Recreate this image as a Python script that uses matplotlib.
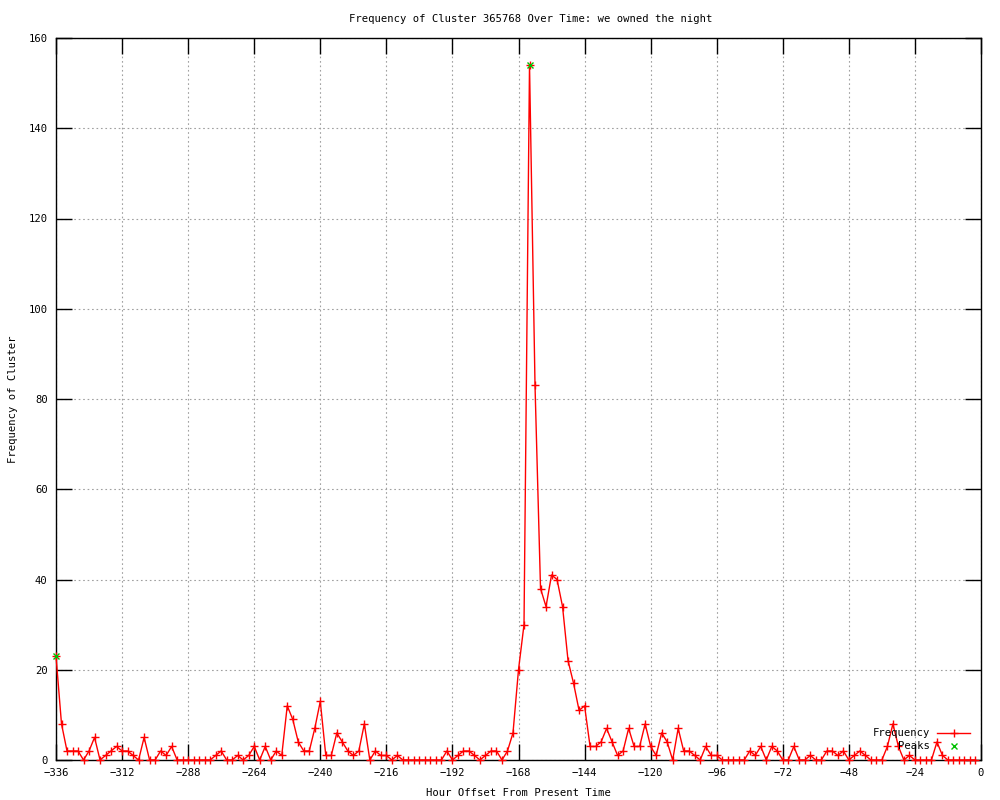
import numpy as np
import matplotlib
matplotlib.use("Agg")
import matplotlib.pyplot as plt

hours = list(range(-336, 0, 2))
frequency = [
    23, 8, 2, 2, 2, 0, 2, 5, 0, 1, 2, 3, 2, 2, 1, 0, 5, 0, 0, 2,
    1, 3, 0, 0, 0, 0, 0, 0, 0, 1, 2, 0, 0, 1, 0, 1, 3, 0, 3, 0,
    2, 1, 12, 9, 4, 2, 2, 7, 13, 1, 1, 6, 4, 2, 1, 2, 8, 0, 2, 1,
    1, 0, 1, 0, 0, 0, 0, 0, 0, 0, 0, 2, 0, 1, 2, 2, 1, 0, 1, 2,
    2, 0, 2, 6, 20, 30, 154, 83, 38, 34, 41, 40, 34, 22, 17, 11, 12, 3, 3, 4,
    7, 4, 1, 2, 7, 3, 3, 8, 3, 1, 6, 4, 0, 7, 2, 2, 1, 0, 3, 1,
    1, 0, 0, 0, 0, 0, 2, 1, 3, 0, 3, 2, 0, 0, 3, 0, 0, 1, 0, 0,
    2, 2, 1, 2, 0, 1, 2, 1, 0, 0, 0, 3, 8, 3, 0, 1, 0, 0, 0, 0,
    4, 1, 0, 0, 0, 0, 0, 0,
]
assert len(hours) == len(frequency)
peak_hours = [-336, -164]
peak_values = [23, 154]

title = "Frequency of Cluster 365768 Over Time: we owned the night"
xlabel = "Hour Offset From Present Time"
ylabel = "Frequency of Cluster"
xticks = list(range(-336, 1, 24))
yticks = list(range(0, 161, 20))

plt.rcParams['font.family'] = ['DejaVu Sans Mono']
FS = 7.6

fig = plt.figure(figsize=(10, 8), dpi=100)
ax = fig.add_axes([56 / 1000, 40 / 800, 925 / 1000, 722 / 800])

red = '#ff0000'
green = '#00c000'
ax.plot(hours, frequency, color=red, linewidth=1.0, marker='+',
        markersize=6, markeredgewidth=1.0, zorder=3, clip_on=False)
ax.plot(peak_hours, peak_values, linestyle='none', color=green, marker='x',
        markersize=5, markeredgewidth=1.0, zorder=4, clip_on=False)

ax.set_xlim(-336, 0)
ax.set_ylim(0, 160)
ax.set_xticks(xticks)
ax.set_yticks(yticks)
ax.tick_params(axis='both', direction='in', length=11.5, width=1.0,
               top=True, right=True, labelsize=FS, colors='black')
ax.tick_params(axis='x', pad=6)
ax.tick_params(axis='y', pad=6)
ax.grid(True, linestyle=(0, (1.5, 2.5)), color='#a0a0a0', linewidth=0.8, zorder=1)
ax.set_axisbelow(True)
for s in ax.spines.values():
    s.set_linewidth(1.0)
    s.set_color('black')

ax.set_xlabel(xlabel, fontsize=FS)
ax.xaxis.set_label_coords(0.5, (760 - 793) / 722)
ax.xaxis.label.set_va('center')
ax.set_ylabel(ylabel, fontsize=FS)
ax.yaxis.set_label_coords((13 - 56) / 925, 0.5)
ax.yaxis.label.set_va('center')

fig.text(531 / 1000, 1 - 19 / 800, title, ha='center', va='center', fontsize=FS)

# key (gnuplot style: right-justified text then sample)
def ax_x(px):
    return (px - 56) / 925

def ax_y(py):
    return (760 - py) / 722

ax.text(ax_x(930), ax_y(733), "Frequency", transform=ax.transAxes,
        ha='right', va='center', fontsize=FS)
ax.plot([ax_x(937), ax_x(970)], [ax_y(733), ax_y(733)], transform=ax.transAxes,
        color=red, linewidth=1.0, clip_on=False)
ax.plot([ax_x(953.5)], [ax_y(733)], transform=ax.transAxes, color=red, marker='+',
        markersize=6, markeredgewidth=1.0, clip_on=False)
ax.text(ax_x(930), ax_y(746), "Peaks", transform=ax.transAxes,
        ha='right', va='center', fontsize=FS)
ax.plot([ax_x(953.5)], [ax_y(746)], transform=ax.transAxes, color=green, marker='x',
        markersize=5, markeredgewidth=1.0, clip_on=False)

fig.savefig("out.png", dpi=100)
